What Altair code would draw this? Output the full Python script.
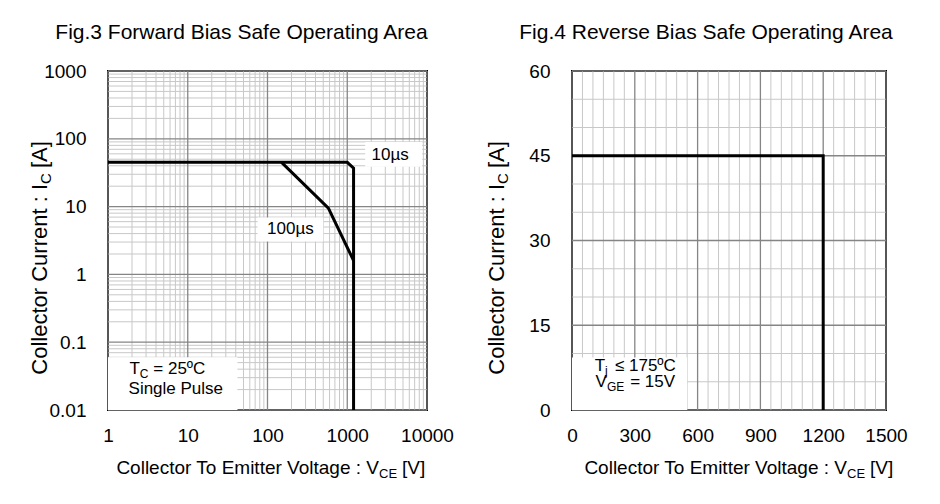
import altair as alt
import pandas as pd

FONT = "Liberation Sans"

# ---------------- data ----------------
# Fig.3 forward bias SOA (log-log)
fw10_v = [1, 1000, 1200, 1200]
fw10_i = [45, 45, 37, 0.01]
fw100_v = [150, 580, 1200]
fw100_i = [45, 9.5, 1.6]

# Fig.4 reverse bias SOA (linear)
rb_v = [0, 1200, 1200]
rb_i = [45, 45, 0]

# tick labels / grid values
log_x_major = [1, 10, 100, 1000, 10000]
log_y_major = [0.01, 0.1, 1, 10, 100, 1000]
minor_mult = [2, 3, 4, 5, 6, 7, 8, 9]
log_x_minor = [m * d for d in [1, 10, 100, 1000] for m in minor_mult]
log_y_minor = [m * d for d in [0.01, 0.1, 1, 10, 100] for m in minor_mult]

lin_x_major = [0, 300, 600, 900, 1200, 1500]
lin_y_major = [0, 15, 30, 45, 60]
lin_x_minor = [v for v in range(50, 1500, 50) if v % 300 != 0]
lin_y_minor = [v for v in range(5, 60, 5) if v % 15 != 0]

W1, H = 319, 339
W2 = 314
MAJ = "#858585"
MIN = "#c8c8c8"


def make_axis(vals, fmt, pad):
    return alt.Axis(values=vals, format=fmt, grid=False, ticks=False, tickSize=0,
                    domain=False, labelFontSize=19, labelPadding=pad, labelFont=FONT,
                    labelColor="black", labelOverlap=False, labelFlush=False,
                    labelBound=False, title=None)


# ---------------- left chart ----------------
xs1 = alt.Scale(type="log", domain=[1, 10000], nice=False)
ys1 = alt.Scale(type="log", domain=[0.01, 1000], nice=False)
ax_x1 = make_axis(log_x_major, "~g", 16)
ax_y1 = make_axis(log_y_major, "~g", 22)


def X1(f="V"):
    return alt.X(f"{f}:Q", scale=xs1, axis=ax_x1)


def Y1(f="I"):
    return alt.Y(f"{f}:Q", scale=ys1, axis=ax_y1)


def vgrid(vals, color, w, X):
    return alt.Chart(pd.DataFrame({"V": vals})).mark_rule(color=color, strokeWidth=w).encode(x=X())


def hgrid(vals, color, w, Y):
    return alt.Chart(pd.DataFrame({"I": vals})).mark_rule(color=color, strokeWidth=w).encode(y=Y())


def box(df, X, Y):
    return alt.Chart(df).mark_rect(color="white").encode(
        x=X("x1"), x2="x2:Q", y=Y("y1"), y2="y2:Q")


def txt(df, X, Y, size=17, align="center", baseline="alphabetic", dy=0):
    return alt.Chart(df).mark_text(font=FONT, fontSize=size, align=align, baseline=baseline,
                                   color="black", dy=dy).encode(x=X(), y=Y(), text="t:N")


def ptxt(t, x, y, size, align="left", angle=0):
    kw = dict(font=FONT, fontSize=size, align=align, baseline="alphabetic", color="black")
    if angle:
        kw["angle"] = angle
    return alt.Chart(pd.DataFrame({"t": [t]})).mark_text(**kw).encode(
        x=alt.value(x), y=alt.value(y), text="t:N")


def titles(xv_end, ytx):
    yI_end = 113
    return [
        ptxt("Collector To Emitter Voltage : V", xv_end, 403, 19, align="right"),
        ptxt("CE", xv_end, 407, 13),
        ptxt("[V]", xv_end + 23, 403, 19),
        ptxt("Collector Current : I", ytx, yI_end, 22, align="right", angle=270),
        ptxt("C", ytx + 4, yI_end, 15, align="left", angle=270),
        ptxt("[A]", ytx, yI_end - 16, 22, align="left", angle=270),
    ]


boxes1 = pd.DataFrame({"x1": [1680, 75, 1.0], "x2": [8700, 500, 42],
                       "y1": [38.6, 3.06, 0.01], "y2": [90, 6.9, 0.06]})

line1 = pd.concat([
    pd.DataFrame({"V": fw10_v, "I": fw10_i, "s": "10us", "o": range(len(fw10_v))}),
    pd.DataFrame({"V": fw100_v, "I": fw100_i, "s": "100us", "o": range(len(fw100_v))}),
])

lines1 = alt.Chart(line1).mark_line(color="black", strokeWidth=3, clip=True).encode(
    x=X1(), y=Y1(), detail="s:N", order="o:Q")

ann1_c = pd.DataFrame({"t": ["10µs", "100µs"], "V": [3450, 194], "I": [58, 4.6]})
ann1_T = pd.DataFrame({"t": ["T"], "V": [2.51], "I": [0.0339]})
ann1_Ts = pd.DataFrame({"t": ["C"], "V": [2.51], "I": [0.0339]})
ann1_Tr = pd.DataFrame({"t": ["= 25ºC"], "V": [3.7], "I": [0.0339]})
ann1_SP = pd.DataFrame({"t": ["Single Pulse"], "V": [7.08], "I": [0.0172]})

left = alt.layer(
    vgrid(log_x_minor, MIN, 1, X1), hgrid(log_y_minor, MIN, 1, Y1),
    vgrid(log_x_major, MAJ, 1.3, X1), hgrid(log_y_major, MAJ, 1.3, Y1),
    box(boxes1, X1, Y1),
    lines1,
    txt(ann1_c, X1, Y1, baseline="middle"),
    txt(ann1_T, X1, Y1, align="right"),
    txt(ann1_Ts, X1, Y1, size=12, align="left", dy=4),
    txt(ann1_Tr, X1, Y1, align="left"),
    txt(ann1_SP, X1, Y1),
    *titles(271, -61),
).properties(
    width=W1, height=H,
    title=alt.TitleParams("Fig.3 Forward Bias Safe Operating Area", fontSize=21, font=FONT,
                          fontWeight="normal", color="black", anchor="middle", frame="group",
                          dx=-26, offset=19),
)

# ---------------- right chart ----------------
xs2 = alt.Scale(domain=[0, 1500], nice=False)
ys2 = alt.Scale(domain=[0, 60], nice=False)
ax_x2 = make_axis(lin_x_major, "d", 16)
ax_y2 = make_axis(lin_y_major, "d", 22)


def X2(f="V"):
    return alt.X(f"{f}:Q", scale=xs2, axis=ax_x2)


def Y2(f="I"):
    return alt.Y(f"{f}:Q", scale=ys2, axis=ax_y2)


boxes2 = pd.DataFrame({"x1": [0], "x2": [550], "y1": [0], "y2": [9.3]})
line2 = pd.DataFrame({"V": rb_v, "I": rb_i, "o": range(len(rb_v))})
lines2 = alt.Chart(line2).mark_line(color="black", strokeWidth=3, clip=True).encode(
    x=X2(), y=Y2(), order="o:Q")

ann2_T = pd.DataFrame({"t": ["T"], "V": [158], "I": [6.9]})
ann2_Ts = pd.DataFrame({"t": ["j"], "V": [158], "I": [6.9]})
ann2_Tr = pd.DataFrame({"t": ["≤ 175ºC"], "V": [205], "I": [6.9]})
ann2_V = pd.DataFrame({"t": ["V"], "V": [167], "I": [4.07]})
ann2_Vs = pd.DataFrame({"t": ["GE"], "V": [167], "I": [4.07]})
ann2_Vr = pd.DataFrame({"t": ["= 15V"], "V": [278], "I": [4.07]})

right = alt.layer(
    vgrid(lin_x_minor, MIN, 1, X2), hgrid(lin_y_minor, MIN, 1, Y2),
    vgrid(lin_x_major, MAJ, 1.3, X2), hgrid(lin_y_major, MAJ, 1.3, Y2),
    box(boxes2, X2, Y2),
    lines2,
    txt(ann2_T, X2, Y2, align="right"),
    txt(ann2_Ts, X2, Y2, size=12, align="left", dy=4),
    txt(ann2_Tr, X2, Y2, align="left"),
    txt(ann2_V, X2, Y2, align="right"),
    txt(ann2_Vs, X2, Y2, size=12, align="left", dy=4),
    txt(ann2_Vr, X2, Y2, align="left"),
    *titles(275, -68),
).properties(
    width=W2, height=H,
    title=alt.TitleParams("Fig.4 Reverse Bias Safe Operating Area", fontSize=21, font=FONT,
                          fontWeight="normal", color="black", anchor="middle", frame="group",
                          dx=-23, offset=19),
)

chart = alt.hconcat(left, right, spacing=30).properties(
    padding={"left": 20, "top": 13, "right": 5, "bottom": 5},
    background="white",
).configure_view(stroke="black", strokeWidth=2)

chart.save("out.html", embed_options={"renderer": "svg", "actions": False})
